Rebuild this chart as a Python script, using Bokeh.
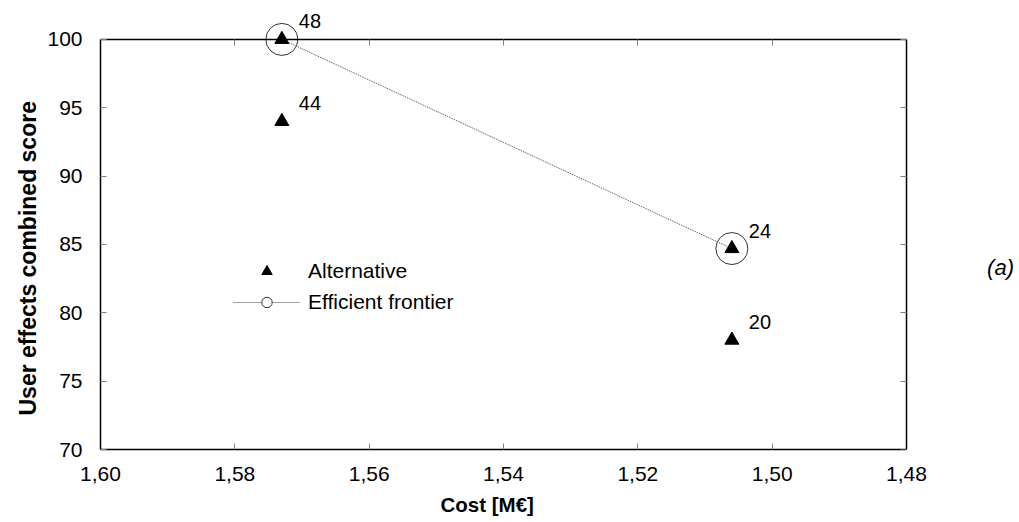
from bokeh.plotting import figure
from bokeh.models import (ColumnDataSource, Range1d, FixedTicker, CustomJSTickFormatter,
                          LinearAxis, LabelSet, Label, Legend, LegendItem, Title)
from bokeh.core.properties import value
from bokeh.embed import file_html
from bokeh.resources import INLINE

# ---- data ----
alt_ids = ["48", "44", "24", "20"]
alt_cost = [1.573, 1.573, 1.506, 1.506]
alt_score = [100.0, 94.0, 84.7, 78.0]

frontier_ids = ["48", "24"]
frontier_cost = [1.573, 1.506]
frontier_score = [100.0, 84.7]

x_ticks = [1.60, 1.58, 1.56, 1.54, 1.52, 1.50, 1.48]
y_ticks = [70, 75, 80, 85, 90, 95, 100]

FONT = "Liberation Sans"

alt_src = ColumnDataSource(dict(x=alt_cost, y=alt_score, name=alt_ids))
fr_src = ColumnDataSource(dict(x=frontier_cost, y=frontier_score, name=frontier_ids))

# The box spans x 1.60..1.48 (100..906 px) and y 70..100 (450..39 px);
# the frame is extended to the top and right so labels outside the box are not clipped.
box_left, box_right, box_top, box_bottom = 100, 906, 39, 450
fig_w, fig_h = 1019, 522
x_per_px = (x_ticks[0] - x_ticks[-1]) / (box_right - box_left)
y_per_px = (y_ticks[-1] - y_ticks[0]) / (box_bottom - box_top)
x_end = x_ticks[-1] - (fig_w - box_right) * x_per_px
y_end = y_ticks[-1] + box_top * y_per_px

p = figure(width=fig_w, height=fig_h, output_backend="svg", toolbar_location=None,
           x_range=Range1d(x_ticks[0], x_end), y_range=Range1d(y_ticks[0], y_end),
           min_border_left=box_left, min_border_right=0, min_border_top=0,
           min_border_bottom=fig_h - box_bottom)
p.grid.visible = False
p.outline_line_color = None
p.background_fill_color = "white"
p.border_fill_color = "white"

fmt = CustomJSTickFormatter(code="return tick.toFixed(2).replace('.', ',');")
blank = CustomJSTickFormatter(code="return '';")

def style_axis(ax, labels=True):
    ax.major_tick_in = 6
    ax.major_tick_out = 0
    ax.minor_tick_line_color = None
    ax.major_tick_line_color = "#808080"
    ax.axis_line_color = "black"
    ax.axis_line_width = 1.5
    if labels:
        ax.major_label_text_font = FONT
        ax.major_label_text_font_size = "21px"
        ax.major_label_text_color = "black"
    else:
        ax.formatter = blank
        ax.major_label_standoff = 0

xa = p.xaxis[0]
xa.ticker = FixedTicker(ticks=x_ticks)
xa.formatter = fmt
xa.bounds = (x_ticks[-1], x_ticks[0])
xa.major_label_standoff = 17
style_axis(xa)

ya = p.yaxis[0]
ya.ticker = FixedTicker(ticks=y_ticks)
ya.bounds = (y_ticks[0], y_ticks[-1])
ya.major_label_standoff = 18
style_axis(ya)

top = LinearAxis(ticker=FixedTicker(ticks=x_ticks), fixed_location=y_ticks[-1],
                 bounds=(x_ticks[-1], x_ticks[0]))
style_axis(top, labels=False)
p.add_layout(top, "above")
right = LinearAxis(ticker=FixedTicker(ticks=y_ticks), fixed_location=x_ticks[-1],
                   bounds=(y_ticks[0], y_ticks[-1]))
style_axis(right, labels=False)
p.add_layout(right, "right")

# axis titles (placed as titles so they can be centred on the box, not the extended frame)
p.add_layout(Title(text="Cost [M€]", align="left", offset=340, standoff=14,
                   text_font=FONT, text_font_size="20.5px", text_font_style="bold",
                   text_color="black"), "below")
p.add_layout(Title(text="User effects combined score", align="left", offset=34, standoff=8,
                   text_font=FONT, text_font_size="23px", text_font_style="bold",
                   text_color="black"), "left")

# efficient frontier: circles (white fill), dotted line, then triangles
fr_circ = p.scatter("x", "y", source=fr_src, marker="circle", size=32,
                    fill_color="white", line_color="#333333", line_width=1)
fr_line = p.line("x", "y", source=fr_src, line_color="#444444", line_width=1, line_dash="1 1")
alt = p.scatter("x", "y", source=alt_src, marker="triangle", size=14,
                fill_color="black", line_color="black")

labels = LabelSet(x="x", y="y", text="name", source=alt_src, x_offset=17, y_offset=18,
                  text_font=value(FONT), text_font_size="20px", text_baseline="middle",
                  text_color="black")
p.add_layout(labels)

legend = Legend(items=[LegendItem(label="Alternative", renderers=[alt]),
                       LegendItem(label="Efficient frontier", renderers=[fr_line, fr_circ])],
                location=(133, 134), glyph_width=67, glyph_height=26, spacing=5,
                padding=0, margin=0, label_standoff=8, border_line_color=None,
                background_fill_alpha=0, label_text_font=FONT, label_text_font_size="21px",
                label_text_color="black")
p.add_layout(legend, "center")

p.add_layout(Label(x=1.468, y=83.3, text="(a)", text_font=FONT, text_font_size="22px",
                   text_font_style="italic", text_baseline="middle", text_color="black"))

open("out.html", "w").write(file_html(p, INLINE))
